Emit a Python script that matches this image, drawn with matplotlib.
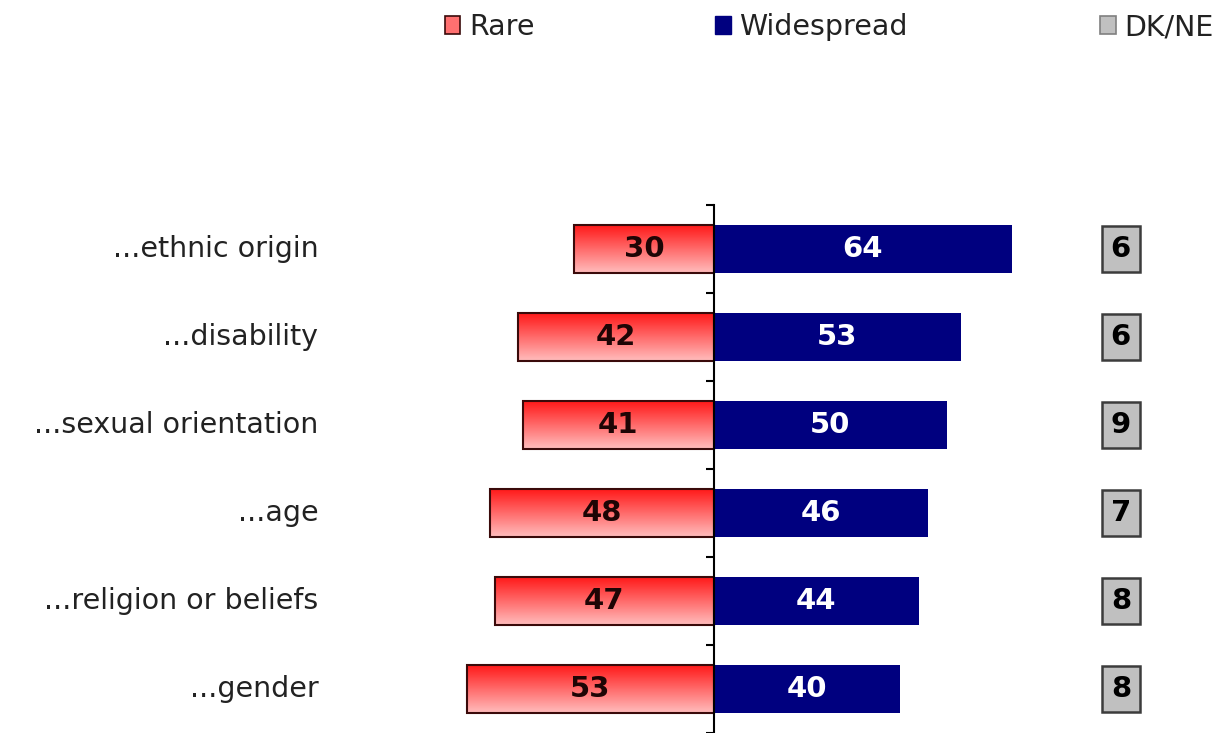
import numpy as np
import matplotlib
matplotlib.use("Agg")
import matplotlib.pyplot as plt
import matplotlib.patches as mpatches
from matplotlib.colors import LinearSegmentedColormap

# ── Data ──────────────────────────────────────────────────────────────────────
categories = ["...ethnic origin", "...disability", "...sexual orientation",
              "...age", "...religion or beliefs", "...gender"]
rare       = [30, 42, 41, 48, 47, 53]
widespread = [64, 53, 50, 46, 44, 40]
dk_ne      = [6, 6, 9, 7, 8, 8]

NAVY = "#00007f"
RED_TOP = "#ff1a1a"
RED_BOT = "#ffbcbc"
GREY = "#c0c0c0"

plt.rcParams["font.family"] = ["DejaVu Sans"]

fig = plt.figure(figsize=(12.18, 7.33), dpi=100)
ax = fig.add_axes([330 / 1218, 0.0, 888 / 1218, 528 / 733])

y = np.arange(len(categories))
h = 0.54

# Rare bars (negative side) with vertical red->pink gradient
rare_bars = ax.barh(y, [-v for v in rare], height=h, color="none",
                    edgecolor="#3a0a0a", linewidth=1.5, zorder=3)
grad = np.linspace(0, 1, 64).reshape(-1, 1)
cmap = LinearSegmentedColormap.from_list("rare", [RED_TOP, RED_BOT])
for bar in rare_bars:
    x0, y0 = bar.get_x(), bar.get_y()
    w, hh = bar.get_width(), bar.get_height()
    im = ax.imshow(grad, cmap=cmap, aspect="auto", interpolation="bilinear",
                   extent=[x0 + w, x0, y0 + hh, y0], zorder=2)
    im.set_clip_path(bar)

wide_bars = ax.barh(y, widespread, height=h, color=NAVY, edgecolor="none",
                    zorder=3)

for bar, v in zip(rare_bars, rare):
    ax.text(bar.get_x() + bar.get_width() / 2, bar.get_y() + bar.get_height() / 2,
            str(v), ha="center", va="center", fontsize=21, fontweight="bold",
            color="#1e0505", zorder=4)
for bar, v in zip(wide_bars, widespread):
    ax.text(bar.get_x() + bar.get_width() / 2, bar.get_y() + bar.get_height() / 2,
            str(v), ha="center", va="center", fontsize=21, fontweight="bold",
            color="white", zorder=4)

# DK/NE boxes
for yi, v in zip(y, dk_ne):
    ax.text(89.5, yi, str(v), ha="right", va="center", fontsize=21,
            fontweight="bold", color="black",
            bbox=dict(boxstyle="square,pad=0.3", facecolor=GREY,
                      edgecolor="#3c3c3c", linewidth=1.8))

# Category labels
for yi, c in zip(y, categories):
    ax.text(-0.013, yi, c, transform=ax.get_yaxis_transform(), ha="right",
            va="center", fontsize=20.5, color="#222222")

ax.set_xlim(-82.4, 108.2)
ax.set_ylim(len(categories) - 0.54, -0.5)

for s in ["top", "right", "bottom"]:
    ax.spines[s].set_visible(False)
ax.spines["left"].set_position(("data", 0))
ax.spines["left"].set_linewidth(1.5)
ax.spines["left"].set_zorder(5)
ax.set_xticks([])
ax.set_yticks(np.arange(-0.5, len(categories), 1.0))
ax.tick_params(axis="y", direction="out", length=6, width=1.5, labelleft=False)

# Legend (three separate entries, spread across the top)
legend_items = [
    ("Rare", mpatches.Patch(facecolor="#ff7070", edgecolor="#3a0a0a", linewidth=1.2), 0.365),
    ("Widespread", mpatches.Patch(facecolor=NAVY, edgecolor=NAVY), 0.587),
    ("DK/NE", mpatches.Patch(facecolor=GREY, edgecolor="#808080", linewidth=1.2), 0.903),
]
for label, handle, xpos in legend_items:
    fig.legend(handles=[handle], labels=[label], loc="center left",
               bbox_to_anchor=(xpos, 0.963), frameon=False, fontsize=20.5,
               handlelength=0.55, handleheight=0.55, handletextpad=0.3,
               borderaxespad=0, borderpad=0, labelcolor="#222222")

fig.savefig("out.png", dpi=100)
